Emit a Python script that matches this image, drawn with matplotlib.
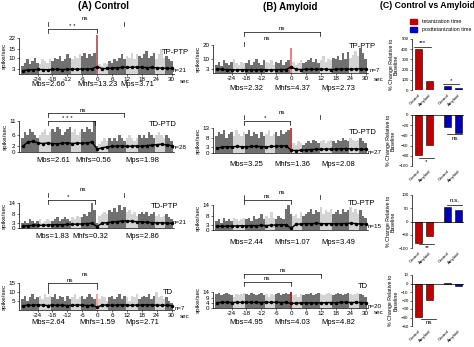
import numpy as np
import matplotlib.pyplot as plt
from matplotlib.lines import Line2D
from matplotlib.transforms import blended_transform_factory

# time axis: 1 s bins around the stimulus, mean trace every 2 s
TIME = np.arange(-30, 31)
MEAN_TIME = np.arange(-30, 31, 2)
TICKS = [-24, -18, -12, -6, 0, 6, 12, 18, 24, 30]

# ---- (A) Control ----
A1_RATE = [5, 7, 9, 6, 8, 10, 7, 6, 9, 8, 7, 9,
           8, 10, 9, 11, 8, 9, 12, 10, 9, 11, 10, 12,
           11, 13, 10, 12, 11, 13,
           24,
           6, 5, 7, 6, 8, 7,
           9, 8, 10, 12, 9, 11, 10, 13, 9, 12, 11, 10,
           12, 14, 10, 11, 13, 9, 12, 15, 10, 11, 9, 8]
A1_MEAN = [2.0, 2.5, 2.6, 2.8, 2.7, 2.6, 2.8, 2.9, 2.7, 2.8, 3.0, 2.9, 3.1, 3.0, 3.2,
           4.5, 3.3, 3.4, 3.6, 3.8, 4.0, 4.2, 4.0, 4.3, 4.1, 3.9, 4.0, 3.8, 3.6, 3.5, 3.4]

A2_RATE = [5, 7, 6, 8, 7, 6, 5, 6, 7, 8, 6, 7,
           8, 7, 9, 8, 6, 7, 8, 9, 7, 8, 6, 7,
           8, 7, 9, 8, 7, 11,
           2,
           3, 4, 5, 4, 5, 4,
           5, 4, 6, 5, 4, 5, 6, 5, 4, 5, 6, 5,
           6, 5, 7, 6, 5, 6, 7, 6, 5, 6, 5, 4]
A2_MEAN = [2.0, 3.5, 3.8, 3.3, 3.0, 3.2, 3.0, 2.9, 3.1, 3.3, 3.0, 3.2, 3.1, 3.3, 3.5,
           1.0, 1.5, 1.8, 2.0, 2.1, 2.2, 2.0, 2.1, 2.2, 2.0, 2.3, 2.4, 2.6, 2.8, 2.5, 2.3]

A3_RATE = [3, 4, 3, 5, 4, 3, 4, 5, 3, 4, 5, 4,
           4, 5, 6, 4, 5, 6, 5, 4, 6, 5, 7, 6,
           6, 8, 7, 9, 14, 10,
           3,
           7, 8, 9, 8, 10, 9,
           11, 9, 13, 10, 12, 9, 10, 8, 9, 7, 8, 9,
           8, 9, 7, 8, 9, 7, 8, 6, 7, 8, 6, 5]
A3_MEAN = [1.0, 1.3, 1.5, 1.6, 1.5, 1.7, 1.8, 1.9, 1.8, 2.0, 2.1, 2.2, 2.3, 2.5, 2.6,
           0.8, 2.8, 3.0, 3.3, 3.6, 3.8, 4.0, 3.8, 3.5, 3.4, 3.2, 3.0, 2.9, 3.0, 2.8, 2.6]

A4_RATE = [6, 8, 5, 7, 9, 6, 7, 8, 6, 9, 7, 8,
           7, 9, 6, 8, 7, 5, 8, 6, 7, 9, 6, 7,
           8, 6, 7, 9, 7, 6,
           9,
           6, 8, 7, 5, 7, 8,
           6, 7, 9, 6, 8, 7, 5, 8, 7, 9, 6, 7,
           8, 7, 9, 6, 8, 10, 7, 8, 6, 7, 5, 4]
A4_MEAN = [2.2, 2.8, 2.6, 2.9, 2.7, 2.5, 2.8, 2.6, 2.7, 2.5, 2.6, 2.8, 2.7, 2.5, 2.6,
           1.6, 2.7, 2.8, 2.6, 2.7, 2.9, 2.7, 2.6, 2.8, 2.7, 2.9, 2.8, 2.7, 2.6, 2.7, 2.5]

# ---- (B) Amyloid ----
B1_RATE = [6, 8, 5, 9, 7, 6, 8, 10, 7, 6, 8, 7,
           7, 9, 6, 8, 10, 7, 6, 9, 8, 7, 9, 6,
           8, 7, 9, 6, 8, 9,
           18,
           8, 6, 7, 9, 7, 8,
           9, 11, 8, 10, 7, 9, 12, 8, 10, 9, 11, 10,
           12, 9, 14, 10, 15, 11, 13, 16, 12, 18, 14, 10]
B1_MEAN = [3.0, 2.6, 2.4, 2.3, 2.2, 2.4, 2.3, 2.2, 2.3, 2.4, 2.3, 2.2, 2.3, 2.5, 2.4,
           4.4, 2.6, 2.5, 2.6, 2.7, 2.6, 2.8, 2.7, 2.5, 2.6, 2.8, 2.9, 2.7, 2.9, 3.0, 2.8]

B2_RATE = [9, 11, 10, 12, 8, 10, 11, 9, 12, 10, 9, 11,
           10, 12, 9, 11, 10, 8, 11, 9, 10, 12, 9, 10,
           11, 9, 12, 10, 11, 12,
           13,
           5, 4, 6, 5, 4, 5,
           6, 5, 7, 6, 5, 6, 7, 5, 6, 7, 6, 5,
           7, 6, 8, 7, 6, 8, 7, 6, 7, 8, 6, 5]
B2_MEAN = [2.5, 3.0, 3.3, 3.2, 3.4, 3.3, 3.2, 3.4, 3.5, 3.3, 3.2, 3.4, 3.5, 3.6, 3.8,
           1.4, 1.3, 1.4, 1.6, 1.8, 1.9, 2.0, 2.0, 2.1, 2.0, 2.2, 2.3, 2.2, 2.1, 2.0, 1.9]

B3_RATE = [5, 6, 4, 7, 5, 6, 5, 7, 6, 5, 6, 7,
           6, 7, 5, 8, 6, 7, 9, 6, 8, 7, 10, 7,
           6, 8, 7, 6, 12, 14,
           9,
           8, 9, 7, 10, 8, 9,
           10, 12, 9, 11, 10, 13, 9, 11, 10, 12, 9, 10,
           11, 9, 12, 10, 11, 13, 10, 12, 9, 11, 8, 7]
B3_MEAN = [2.0, 2.2, 2.1, 2.3, 2.2, 2.4, 2.3, 2.5, 2.4, 2.6, 2.5, 2.7, 2.8, 3.0, 2.9,
           1.0, 3.2, 3.4, 3.6, 3.5, 3.7, 3.6, 3.5, 3.6, 3.4, 3.5, 3.6, 3.8, 3.6, 3.4, 3.3]

B4_RATE = [12, 13, 11, 12, 13, 12, 11, 10, 12, 11, 12, 13,
           12, 11, 13, 12, 11, 12, 13, 11, 12, 10, 12, 11,
           12, 13, 11, 12, 13, 12,
           14,
           11, 12, 10, 12, 11, 12,
           12, 13, 11, 12, 13, 12, 11, 12, 13, 12, 11, 12,
           13, 12, 11, 12, 13, 12, 11, 12, 13, 12, 11, 10]
B4_MEAN = [4.6, 4.9, 5.0, 4.8, 5.0, 4.9, 5.1, 4.9, 5.0, 4.8, 5.0, 4.9, 5.1, 4.8, 4.9,
           4.0, 4.3, 4.5, 4.6, 4.4, 4.6, 4.5, 4.7, 4.8, 4.6, 4.9, 5.0, 4.8, 4.9, 4.8, 4.7]

# light (unshaded) stretches of the histogram
LIGHT_SPANS = [(-23, -19), (-10, -7), (1, 4), (12, 16), (24, 27)]

# ---- (C) % change relative to baseline ----
GROUPS = ["Control", "Amyloid", "Control", "Amyloid"]
C1_CHANGE = [400, 85, 40, 15]
C2_CHANGE = [-79, -58, -23, -36]
C3_CHANGE = [-82, -55, 55, 42]
C4_CHANGE = [-39, -19, 1, -2.5]

W, H = 474, 347
GRAY = "#707070"
LIGHT = "#d4d4d4"
RED = "#c00000"
BLUE = "#0000bb"

plt.rcParams["font.family"] = ["Liberation Sans", "DejaVu Sans"]
fig = plt.figure(figsize=(W / 100, H / 100), dpi=100)


def rect(left, top, right, bottom):
    return [left / W, 1 - bottom / H, (right - left) / W, (bottom - top) / H]


def ftext(x, y, s, size=5, **kw):
    fig.text(x / W, 1 - y / H, s, fontsize=size, ha="center", va="center", **kw)


def bracket(ax, t0, t1, y, legs=(4, 4), line=True):
    tr = blended_transform_factory(ax.transData, fig.transFigure)
    yf = 1 - y / H
    if line:
        ax.add_line(Line2D([t0, t1], [yf, yf], transform=tr, color="black",
                           lw=0.5, clip_on=False))
    for t, leg in zip((t0, t1), legs):
        if leg:
            ax.add_line(Line2D([t, t], [yf, yf - leg / H], transform=tr,
                               color="black", lw=0.5, clip_on=False))


def psth(left, top, bottom, ymax, yticks, rate, mean, stim_color, xlabels):
    ax = fig.add_axes(rect(left, top, left + 155, bottom))
    colors = []
    for t in TIME:
        if t == 0 and stim_color:
            colors.append(stim_color)
        elif any(a <= t <= b for a, b in LIGHT_SPANS):
            colors.append(LIGHT)
        else:
            colors.append(GRAY)
    bars = ax.bar(TIME, rate, width=1.0, color=colors, linewidth=0)
    for b in bars:
        b.set_clip_on(False)
    ax.plot(MEAN_TIME, mean, color="black", lw=1.0, marker="o", ms=1.5)
    ax.set_xlim(-31.5, 31)
    ax.set_ylim(0, ymax)
    ax.set_yticks(yticks)
    ax.tick_params(labelsize=4.5, length=1.5, width=0.4, pad=1)
    ax.set_xticks(TICKS)
    if xlabels:
        ax.set_xticklabels([str(t) for t in TICKS])
        ax.text(33.5, -0.15, "sec", transform=ax.get_xaxis_transform(),
                fontsize=4.5, va="top", ha="left")
    else:
        ax.set_xticklabels([])
        ax.tick_params(axis="x", length=0)
    for side in ("top", "right"):
        ax.spines[side].set_visible(False)
    for side in ("left", "bottom"):
        ax.spines[side].set_linewidth(0.5)
    ax.set_ylabel("spike/sec", fontsize=4.5, labelpad=1)
    return ax


# column A
a1 = psth(19, 38, 74, 22, [3, 10, 15, 22], A1_RATE, A1_MEAN, "#b46a6a", True)
a2 = psth(19, 121, 152, 11, [0, 2, 6, 11], A2_RATE, A2_MEAN, None, False)
a3 = psth(19, 203, 228, 14, [0, 3, 8, 14], A3_RATE, A3_MEAN, None, False)
a4 = psth(19, 283, 310, 15, [5, 10, 15], A4_RATE, A4_MEAN, "#f2a0a0", True)

# column B
b1 = psth(213, 45, 73, 20, [3, 10, 20], B1_RATE, B1_MEAN, "#f08080", True)
b2 = psth(213, 128, 153, 13, [0, 3, 8, 13], B2_RATE, B2_MEAN, "#c04848", False)
b3 = psth(213, 205, 230, 14, [0, 3, 8, 14], B3_RATE, B3_MEAN, None, False)
b4 = psth(213, 292, 308, 14, [0, 4, 9, 14], B4_RATE, B4_MEAN, "#a03030", True)

# significance brackets over the histograms
bracket(a1, -20, 11, 22, line=False)
bracket(a1, -20, 0, 29)
bracket(a2, -20, 11, 113)
bracket(a2, -20, -1, 121)
bracket(a3, -20, 11, 193, line=False)
bracket(a3, -20, -1, 200)
bracket(a4, -20, 0, 283, legs=(10, 6))
bracket(b1, -19, 11.5, 32)
bracket(b1, -19, 0, 42, line=False, legs=(4, 0))
bracket(b2, -19, 11.5, 115, line=False)
bracket(b2, -19, -0.5, 121)
bracket(b3, -19, 11.5, 195, line=False)
bracket(b3, -19, 0, 200)
bracket(b4, -19, 12, 274)
bracket(b4, -19, 0, 282)

for x, y, s in [(85, 19, "ns"), (72, 26, "* *"), (83, 110, "ns"), (67, 118, "* * *"),
                (83, 190, "ns"), (68, 197, "*"), (85, 274, "ns"), (70, 280, "ns"),
                (282, 29, "ns"), (267, 38, "ns"), (282, 112, "ns"), (265, 118, "*"),
                (282, 192, "ns"), (267, 197, "ns"), (283, 271, "ns"), (267, 279, "ns")]:
    ftext(x, y, s, size=4.5)

# condition and cell count labels
for x, y, s in [(175, 53, "TP-PTP"), (163, 125, "TD-PTD"), (165, 207, "TD-PTP"),
                (168, 293, "TD"), (362, 47, "TP-PTP"), (363, 132, "TD-PTD"),
                (362, 203, "TD-PTP"), (363, 287, "TD")]:
    ftext(x, y, s, size=5.5)
for x, y, s in [(180, 70, "n=21"), (180, 148, "n=28"), (180, 223, "n=21"), (180, 308, "n=7"),
                (375, 71, "n=7"), (375, 152, "n=27"), (375, 227, "n=15"), (375, 307, "n=20")]:
    ftext(x, y, s, size=4.5)

# window means
MEANS_TEXT = [
    (85, ["Mbs=2.66", "Mhfs=13.23", "Mps=3.71"], (48, 97, 137)),
    (161, ["Mbs=2.61", "Mhfs=0.56", "Mps=1.98"], (53, 93, 142)),
    (236, ["Mbs=1.83", "Mhfs=0.32", "Mps=2.86"], (52, 90, 142)),
    (323, ["Mbs=2.64", "Mhfs=1.59", "Mps=2.71"], (48, 97, 142)),
]
MEANS_TEXT_B = [
    (89, ["Mbs=2.32", "Mhfs=4.37", "Mps=2.73"]),
    (164, ["Mbs=3.25", "Mhfs=1.36", "Mps=2.08"]),
    (242, ["Mbs=2.44", "Mhfs=1.07", "Mps=3.49"]),
    (323, ["Mbs=4.95", "Mhfs=4.03", "Mps=4.82"]),
]
for y, labels, xs in MEANS_TEXT:
    for x, s in zip(xs, labels):
        ftext(x, y, s, size=5.5)
for y, labels in MEANS_TEXT_B:
    for x, s in zip((246, 292, 338), labels):
        ftext(x, y, s, size=5.5)

# column C bar charts
BAR_X = [0, 1, 2.6, 3.6]
BAR_COLORS = [RED, RED, BLUE, BLUE]


def change_panel(top, bottom, ylim, yticks, values):
    ax = fig.add_axes(rect(412, top, 464, bottom))
    ax.bar(BAR_X, values, width=0.65, color=BAR_COLORS, edgecolor="black", linewidth=0.4)
    ax.axhline(0, color="black", lw=0.5)
    ax.set_ylim(*ylim)
    ax.set_xlim(-0.55, 4.1)
    ax.set_yticks(yticks)
    ax.set_xticks(BAR_X)
    ax.set_xticklabels(GROUPS, rotation=45, ha="right", rotation_mode="anchor")
    ax.tick_params(axis="x", length=0, labelsize=3.2, pad=2)
    ax.tick_params(axis="y", labelsize=3.2, length=1.5, width=0.4, pad=1)
    for side in ("top", "right", "bottom"):
        ax.spines[side].set_visible(False)
    ax.spines["left"].set_linewidth(0.5)
    ax.set_ylabel("% Change Relative to\nBaseline", fontsize=3.8, labelpad=2, linespacing=1.0)
    return ax


change_panel(39, 90, (0, 500), [0, 100, 200, 300, 400, 500], C1_CHANGE)
change_panel(115, 166, (-100, 0), [0, -20, -40, -60, -80, -100], C2_CHANGE)
change_panel(195, 248, (-100, 100), [-100, -50, 0, 50, 100], C3_CHANGE)
change_panel(275, 326, (-50, 10), [10, 0, -10, -20, -30, -40, -50], C4_CHANGE)


def hline_px(x0, x1, y):
    fig.add_artist(Line2D([x0 / W, x1 / W], [1 - y / H, 1 - y / H], color="black", lw=0.5))


for x0, x1, y in [(414, 431, 47), (443, 459, 84), (419, 434, 158), (447, 462, 134),
                  (419, 434, 244), (447, 462, 205), (421, 436, 319)]:
    hline_px(x0, x1, y)
for x, y, s in [(422, 43, "***"), (451, 81, "*"), (426, 162, "*"), (455, 138, "ns"),
                (427, 248, "**"), (455, 201, "n.s."), (429, 322, "ns")]:
    ftext(x, y, s, size=4.5)

# legend
fig.add_artist(plt.Rectangle((410 / W, 1 - 24 / H), 7 / W, 5 / H, color=RED,
                             transform=fig.transFigure))
fig.add_artist(plt.Rectangle((410 / W, 1 - 32 / H), 7 / W, 5 / H, color=BLUE,
                             transform=fig.transFigure))
fig.text(422 / W, 1 - 21.5 / H, "tetanization time", fontsize=3.8, va="center")
fig.text(422 / W, 1 - 29.5 / H, "posttetanization time", fontsize=3.8, va="center")

# column titles
ftext(103, 6, "(A) Control", size=7, fontweight="bold")
ftext(290, 7, "(B) Amyloid", size=7, fontweight="bold")
ftext(427, 6, "(C) Control vs Amyloid", size=6.3, fontweight="bold")

fig.savefig("out.png", dpi=100)
